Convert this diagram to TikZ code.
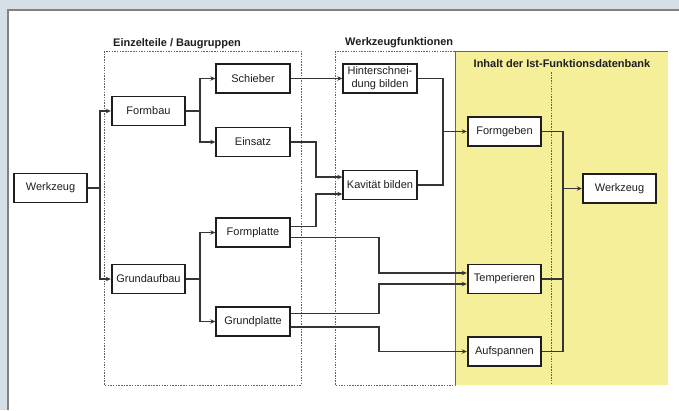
\documentclass[tikz,border=0pt]{standalone}
\usepackage{fontspec}
\setmainfont{Liberation Sans}
\usetikzlibrary{arrows.meta,calc}
\definecolor{bgblue}{RGB}{214,223,230}
\definecolor{ylw}{RGB}{246,239,153}
\definecolor{ink}{RGB}{30,30,30}
\definecolor{frame}{RGB}{130,130,130}
\definecolor{yframe}{RGB}{110,100,80}
\begin{document}
\begin{tikzpicture}[x=1pt,y=-1pt,
  box/.style={draw=ink,line width=1.9pt,fill=white,minimum width=73.5pt,minimum height=29pt,inner sep=1pt,font=\fontsize{11}{13}\selectfont,text=ink,align=center},
  conn/.style={draw=ink!90,line width=1.5pt,-{Stealth[length=5pt,width=4.5pt]}},
  plain/.style={draw=ink!90,line width=1.5pt},
  grp/.style={draw=ink!70,line width=1pt,dash pattern=on 1.5pt off 1.2pt},
  ttl/.style={font=\bfseries\fontsize{11}{13}\selectfont,text=ink,inner sep=0pt}]
\useasboundingbox (0,0) rectangle (679,410);
\fill[bgblue] (0,0) rectangle (679,410);
\fill[white] (8,10) rectangle (679,410);
\draw[frame,line width=1.2pt] (8,410) -- (8,10) -- (679,10);
% groups
\draw[grp] (104,51) rectangle (301,385);
\node[ttl,anchor=base west] (t1) at (113,46) {Einzelteile / Baugruppen};
\draw[grp] (335,51) rectangle (455,385);
\node[ttl,anchor=base west] (t2) at (345,45) {Werkzeugfunktionen};
\fill[ylw] (455,51) rectangle (668,385);
\draw[yframe,line width=1pt] (668,51) -- (455,51) -- (455,385);
\draw[grp] (551,72) -- (551,385);
\node[ttl,anchor=base] (t3) at (562,67) {Inhalt der Ist-Funktionsdatenbank};
% nodes
\node[box] (wl) at (50.5,188) {Werkzeug};
\node[box] (fb) at (148.5,111) {Formbau};
\node[box] (sch) at (253,78.5) {Schieber};
\node[box] (ein) at (253,142) {Einsatz};
\node[box] (fp) at (253,232.5) {Formplatte};
\node[box] (ga) at (148.5,279) {Grundaufbau};
\node[box] (gp) at (253,321.5) {Grundplatte};
\node[box] (hs) at (380,78.5) {Hinterschnei-\\dung bilden};
\node[box] (kav) at (380,185) {Kavität bilden};
\node[box] (fg) at (504.5,131.5) {Formgeben};
\node[box] (wr) at (619.5,188.5) {Werkzeug};
\node[box] (tmp) at (504.5,279) {Temperieren};
\node[box] (auf) at (504.5,351.5) {Aufspannen};
% junctions
\coordinate (j1) at (100,188);
\coordinate (j2) at (200,111);
\coordinate (j3) at (200,279);
\coordinate (k1) at (316,177);
\coordinate (k2) at (316,194);
\coordinate (m1) at (379,273);
\coordinate (m2) at (379,284);
\coordinate (m3) at (379,351.5);
\coordinate (j4) at (443,131.5);
\coordinate (j5) at (563,188.5);
% connectors
\draw[plain] (wl.east) -- (j1);
\draw[conn] (j1) |- (fb.west);
\draw[conn] (j1) |- (ga.west);
\draw[plain] (fb.east) -- (j2);
\draw[conn] (j2) |- (sch.west);
\draw[conn] (j2) |- (ein.west);
\draw[plain] (ga.east) -- (j3);
\draw[conn] (j3) |- (fp.west);
\draw[conn] (j3) |- (gp.west);
\draw[conn] (sch.east) -- (hs.west);
\draw[conn] (ein.east) -| (k1) -- ([yshift=8pt]kav.west);
\draw[conn] ([yshift=6pt]fp.east) -| (k2) -- ([yshift=-9pt]kav.west);
\draw[conn] ([yshift=-5pt]fp.east) -| (m1) -- ([yshift=6pt]tmp.west);
\draw[conn] ([yshift=8pt]gp.east) -| (m2) -- ([yshift=-5pt]tmp.west);
\draw[conn] ([yshift=-5.5pt]gp.east) -| (m3) -- (auf.west);
\draw[plain] (hs.east) -| (j4);
\draw[plain] (kav.east) -| (j4);
\draw[conn] (j4) -- (fg.west);
\draw[plain] (fg.east) -| (j5);
\draw[plain] (tmp.east) -| (j5);
\draw[plain] (auf.east) -| (j5);
\draw[conn] (j5) -- (wr.west);
\end{tikzpicture}
\end{document}
